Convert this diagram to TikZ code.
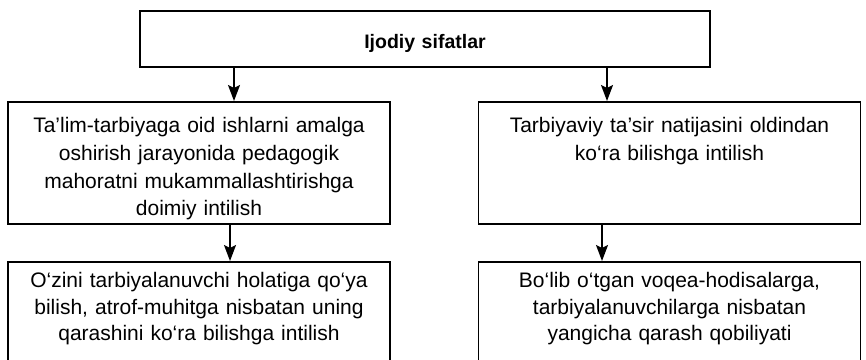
\documentclass[tikz,border=0pt]{standalone}
\usepackage{fontspec}
\setmainfont{Liberation Sans}
\usetikzlibrary{arrows.meta}

\begin{document}
\begin{tikzpicture}[x=1pt,y=-1pt,
  box/.style={draw, line width=1.6pt, anchor=north, inner sep=0pt, text width=382pt, align=center},
  arr/.style={line width=1.6pt, -{Stealth[length=16pt,width=12pt,inset=3pt]}}]
\useasboundingbox (0,0) rectangle (866,359);
\clip (0,0) rectangle (866,359);

\node [box, text width=570pt, text height=38pt, text depth=18pt, font=\bfseries\fontsize{19.5}{24}\selectfont] (ijod) at (425,10) {Ijodiy sifatlar};

\node [box, text height=31pt, text depth=91pt, font=\fontsize{21}{27.7}\selectfont] (sifat1) at (199,101)
  {Ta’lim-tarbiyaga oid ishlarni amalga\\ oshirish jarayonida pedagogik\\ mahoratni mukammallashtirishga\\ doimiy intilish};
\node [box, text height=31pt, text depth=91pt, font=\fontsize{21}{27.7}\selectfont] (sifat2) at (669.5,101)
  {Tarbiyaviy ta’sir natijasini oldindan\\ ko‘ra bilishga intilish};
\node [box, text height=26pt, text depth=130pt, font=\fontsize{21}{26.5}\selectfont] (sifat3) at (199,261)
  {O‘zini tarbiyalanuvchi holatiga qo‘ya\\ bilish, atrof-muhitga nisbatan uning\\ qarashini ko‘ra bilishga intilish};
\node [box, text height=26pt, text depth=130pt, font=\fontsize{21}{26.5}\selectfont] (sifat4) at (669.5,261)
  {Bo‘lib o‘tgan voqea-hodisalarga,\\ tarbiyalanuvchilarga nisbatan\\ yangicha qarash qobiliyati};

\foreach \a/\b/\dx in {ijod/sifat1/35, ijod/sifat2/-62.5, sifat1/sifat3/31, sifat2/sifat4/-67.5}
  \draw [arr] ([xshift=\dx pt]\b.north |- \a.south) -- ([xshift=\dx pt]\b.north);

\end{tikzpicture}
\end{document}
